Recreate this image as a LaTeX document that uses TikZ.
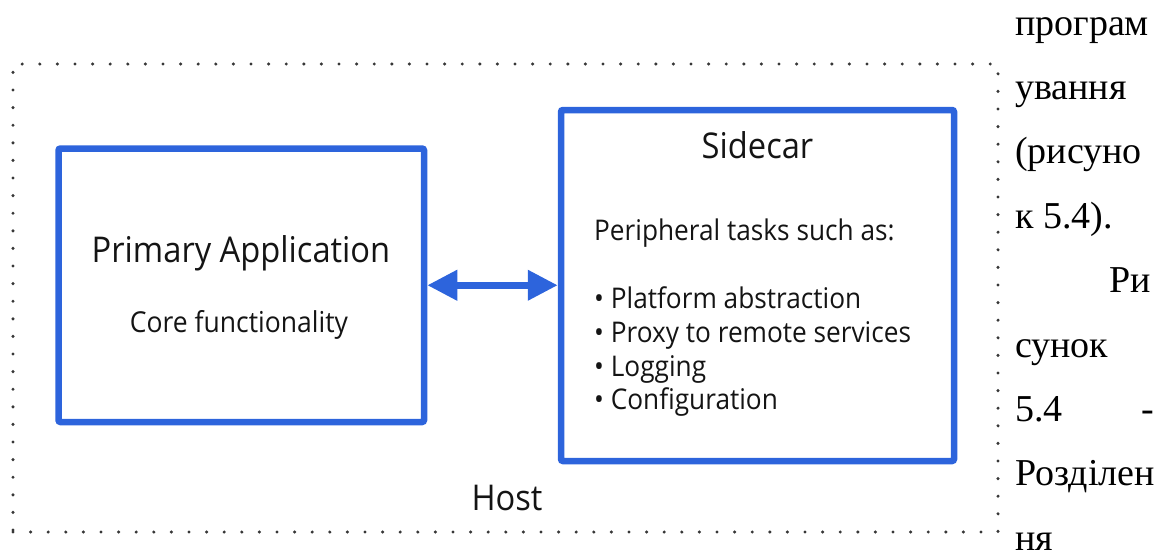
\documentclass[tikz,border=0pt]{standalone}
\usepackage{fontspec}
\setmainfont{Liberation Serif}
\newfontfamily\diagfont[FakeStretch=0.92]{Open Sans}
\usetikzlibrary{arrows.meta}
\definecolor{boxblue}{RGB}{45,100,220}
\definecolor{dotgray}{RGB}{55,55,55}
\definecolor{ink}{RGB}{20,20,20}

\begin{document}
\begin{tikzpicture}[x=1pt,y=-1pt,
  block/.style={draw=boxblue, line width=6.5pt, rounded corners=2pt, inner sep=0pt},
  frame/.style={draw=dotgray, line width=3.4pt, dash pattern=on 0pt off 17.6pt,
                line cap=round, inner sep=0pt},
  lbl/.style={inner sep=0pt, text=ink, font=\diagfont\fontsize{#1}{#1}\selectfont},
  para/.style={inner sep=0pt, text=black, font=\fontsize{38}{38}\selectfont},
  link/.style={draw=boxblue, line width=7pt,
               {Triangle[length=30pt,width=29pt]}-{Triangle[length=30pt,width=29pt]}}
]
\useasboundingbox (0,0) rectangle (1168,552);

% host boundary
\node[frame, minimum width=985pt, minimum height=468pt] (host) at (505.5,298) {};

% the two containers
\node[block, minimum width=365.5pt, minimum height=273.5pt] (primary) at (241.25,285.25) {};
\node[block, minimum width=393pt, minimum height=351pt] (sidecar) at (757.5,285.5) {};

\draw[link] (primary.east) -- (primary.east -| sidecar.west);

% labels inside the containers
\node[lbl=35.5, anchor=base] (ptitle) at (241,262) {Primary Application};
\node[lbl=28.8, anchor=base] (pcore) at (239,332) {Core functionality};
\node[lbl=35.5, anchor=base] (stitle) at (757.5,158) {Sidecar};
\node[lbl=28.5, anchor=base west] (speri) at (594,240) {Peripheral tasks such as:};
\node[lbl=28.5, anchor=base west] (sb1) at (594,308) {• Platform abstraction};
\node[lbl=28.5, anchor=base west] (sb2) at (594,342) {• Proxy to remote services};
\node[lbl=28.5, anchor=base west] (sb3) at (594,376) {• Logging};
\node[lbl=28.5, anchor=base west] (sb4) at (594,409) {• Configuration};
\node[lbl=35.5, anchor=base] (hostlbl) at (507,510) {Host};

% running text column on the right
\node[para, anchor=base west] (r1) at (1015,35) {програм};
\node[para, anchor=base west] (r2) at (1015,99.4) {ування};
\node[para, anchor=base west] (r3) at (1015,163.8) {(рисуно};
\node[para, anchor=base west] (r4) at (1015,228.2) {к 5.4).};
\node[para, anchor=base east] (r5) at (1151,292.6) {Ри};
\node[para, anchor=base west] (r6) at (1015,357) {сунок};
\node[para, anchor=base west] (r7a) at (1015,421.4) {5.4};
\node[para, anchor=base east] (r7b) at (1154,421.4) {-};
\node[para, anchor=base west] (r8) at (1015,485.8) {Розділен};
\node[para, anchor=base west] (r9) at (1015,550.2) {ня};
\end{tikzpicture}
\end{document}
